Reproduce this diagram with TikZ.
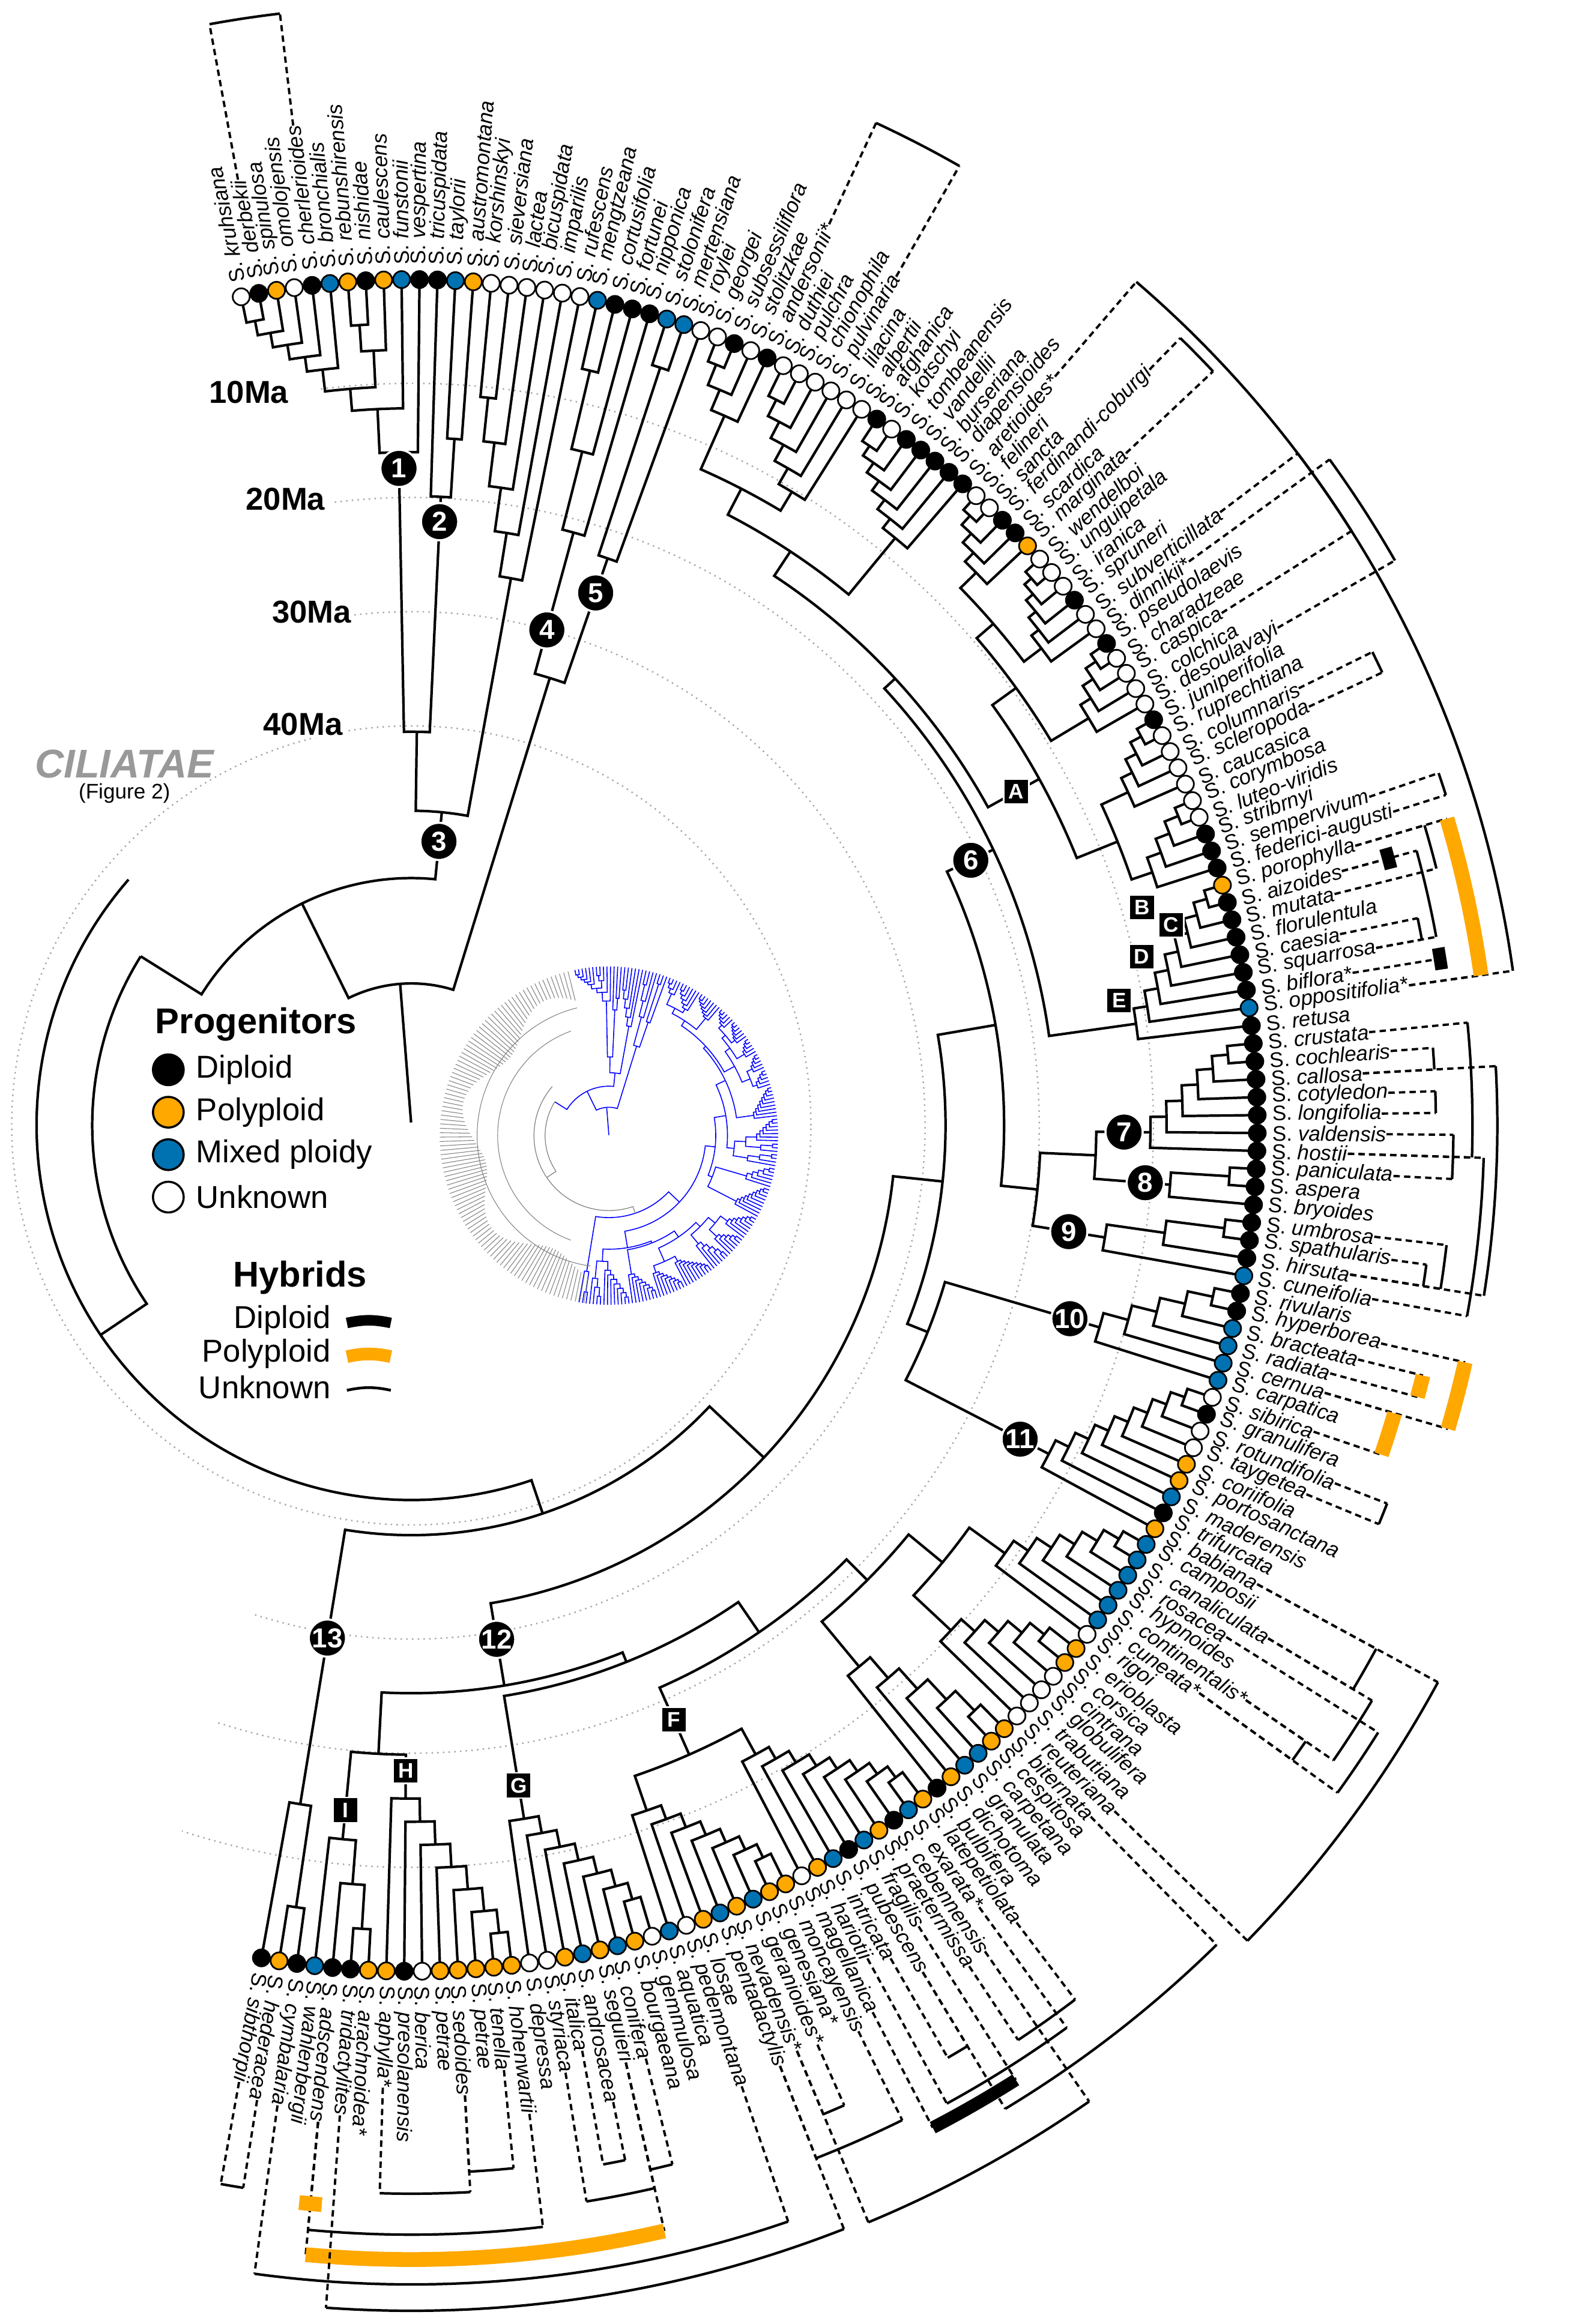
\documentclass[tikz,border=0pt]{standalone}
\usepackage{fontspec}
\setmainfont{Liberation Sans}
\definecolor{ck}{RGB}{0,0,0}
\definecolor{co}{RGB}{255,168,0}
\definecolor{cb}{RGB}{0,114,178}
\definecolor{cw}{RGB}{255,255,255}
\newcommand\setn[3]{\expandafter\xdef\csname ang:#1\endcsname{#2}\expandafter\xdef\csname rad:#1\endcsname{#3}}
\newcommand\ga[1]{\csname ang:#1\endcsname}
\newcommand\gr[1]{\csname rad:#1\endcsname}
\newcommand\nd[4]{\pgfmathsetmacro\aA{\ga{#3}}\pgfmathsetmacro\rA{\gr{#3}}\pgfmathsetmacro\aB{\ga{#4}}\pgfmathsetmacro\rB{\gr{#4}}\pgfmathsetmacro\aM{(\aA+\aB)/2}\draw[br] (\aA:\rA) -- (\aA:#2) arc[start angle=\aA,end angle=\aB,radius=#2] -- (\aB:\rB);\setn{#1}{\aM}{#2}}
\newcommand\cmb[5]{\ifnum\numexpr#2+1\relax=#3\relax \nd{#1}{#5}{t#2}{t#3}\else\nd{#1}{#4}{t#2}{t\the\numexpr#2+1\relax}\pgfmathtruncatemacro\cst{#2+2}\foreach \k in {\cst,...,#3}{\pgfmathsetmacro\rr{#4-(#4-#5)*(\k-#2-1)/(#3-#2-1)}\nd{#1}{\rr}{#1}{t\k}}\fi}
\newcommand\hyb[4]{\pgfmathsetmacro\hA{\ga{t#1}}\pgfmathsetmacro\hB{\ga{t#2}}\draw[hd] (L#1.east) -- (\hA:#3);\draw[hd] (L#2.east) -- (\hB:#3);\draw[#4] (\hA:#3) arc[start angle=\hA,end angle=\hB,radius=#3];}
\newcommand\hbr[3]{\pgfmathsetmacro\hA{\ga{t#1}+0.6}\pgfmathsetmacro\hB{\ga{t#1}-0.6}\pgfmathsetmacro\hC{\ga{t#1}}\draw[hd] (L#1.east) -- (\hC:#2);\draw[#3] (\hA:#2) arc[start angle=\hA,end angle=\hB,radius=#2];}
\newcommand\mk[3]{\node[mk] at (#1:#2) {#3};}
\newcommand\lt[3]{\node[lt] at (#1:#2) {#3};}
\newcommand\mytree{%
\cmb{a1}{1}{6}{560}{520}\cmb{a2}{7}{9}{548}{530}\nd{a3}{505}{a1}{a2}\nd{a4}{490}{a3}{t10}\nd{n1}{460}{a4}{t11}%
\nd{c13}{470}{t13}{t14}\nd{n2}{430}{t12}{c13}\nd{ntop}{269}{n1}{n2}\cmb{a6}{15}{20}{500}{380}\nd{n3}{215}{ntop}{a6}%
\cmb{a7}{21}{24}{530}{420}\cmb{a8}{25}{27}{545}{410}\nd{n45}{320}{a7}{a8}%
\setn{cil}{148}{218}\nd{x169}{169}{cil}{n3}\nd{root}{97}{x169}{n45}\draw[br] (\ga{root}:2) -- (\ga{root}:97);%
\cmb{c28a}{28}{31}{560}{530}\cmb{c28b}{32}{37}{555}{505}\cmb{c28c}{38}{44}{560}{520}\nd{g28ab}{490}{c28a}{c28b}\nd{g28}{470}{g28ab}{c28c}%
\cmb{c45a}{45}{49}{565}{540}\cmb{c45b}{50}{55}{565}{540}\cmb{c45c}{56}{60}{565}{540}\nd{g45ab}{525}{c45a}{c45b}\nd{g45}{510}{g45ab}{c45c}%
\cmb{c61a}{61}{65}{565}{540}\cmb{c61b}{66}{70}{565}{535}\nd{g61}{520}{c61a}{c61b}\nd{gA}{490}{g45}{g61}\nd{gA2}{450}{g28}{gA}%
\cmb{bcde}{71}{79}{565}{500}\nd{n6}{440}{gA2}{bcde}%
\cmb{g7}{80}{86}{560}{505}\cmb{g8}{87}{89}{560}{520}\nd{n78}{468}{g7}{g8}\cmb{g9}{90}{93}{560}{480}\nd{n789}{430}{n78}{g9}\nd{x405}{405}{n6}{n789}%
\cmb{g10}{94}{99}{560}{490}\cmb{g11}{100}{108}{560}{490}\nd{n1011}{380}{g10}{g11}\nd{x365}{365}{x405}{n1011}%
\cmb{c109a}{109}{115}{560}{500}\cmb{c109b}{116}{121}{555}{505}\cmb{c109c}{122}{127}{555}{480}\nd{g109ab}{470}{c109a}{c109b}\nd{g109}{440}{g109ab}{c109c}%
\cmb{c128a}{128}{136}{555}{490}\cmb{c128b}{137}{144}{555}{495}\nd{g128}{470}{c128a}{c128b}\nd{gF}{420}{g109}{g128}%
\cmb{gG}{145}{152}{550}{480}\nd{gGF}{395}{gF}{gG}\cmb{gH}{153}{160}{555}{460}\cmb{gI}{161}{164}{550}{490}\nd{gIH}{430}{gI}{gH}%
\nd{n12}{388}{gIH}{gGF}\nd{x331}{331}{n12}{x365}\cmb{g13}{165}{167}{540}{470}\nd{n280}{280}{g13}{x331}%
\pgfmathsetmacro\aE{\ga{n280}+360}%
\draw[ciltree] (148:218) arc[start angle=148,end angle=214,radius=218] -- (214:256);%
\draw[ciltree] (139:256) arc[start angle=139,end angle=\aE,radius=256] -- (\aE:280);%
}
\newcommand\lab{\fontsize{10}{10}\selectfont}
\begin{document}
\begin{tikzpicture}[x=0.02438cm,y=0.02438cm,
 br/.style={line width=1.2pt},ciltree/.style={line width=1.2pt},
 hd/.style={line width=1.1pt,dash pattern=on 3pt off 2pt},
 hu/.style={line width=1.2pt},
 ho/.style={line width=7pt,co},
 hk/.style={line width=6pt,black},
 dotc/.style={gray!70,dotted,line width=0.7pt},
 mk/.style={circle,fill=black,draw=white,line width=1pt,text=white,font=\fontsize{13}{13}\selectfont\bfseries,minimum size=0.62cm,inner sep=0pt},
 lt/.style={fill=black,draw=white,line width=0.8pt,text=white,font=\fontsize{10}{10}\selectfont\bfseries,minimum size=0.42cm,inner sep=0pt}]
\useasboundingbox (0,0) rectangle (1080,1588);
\foreach \i in {1,...,167}{\pgfmathsetmacro\tA{101.6-1.2157*(\i-1)}\setn{t\i}{\tA}{578}}
\begin{scope}[shift={(281,819)}]
\foreach \r in {507,429,351}{\draw[dotc] (97:\r) arc[start angle=97,end angle=-108,radius=\r];}
\draw[dotc] (0,0) circle[radius=273];
\mytree
\foreach \c/\n [count=\i] in {w/kruhsiana, k/derbekii, o/spinulosa, w/omolojensis, k/cherlerioides, b/bronchialis, o/rebunshirensis, k/nishidae, o/caulescens, b/funstonii, k/vespertina, k/tricuspidata, b/taylorii, o/austromontana, w/korshinskyi, w/sieversiana, w/lactea, w/bicuspidata, w/imparilis, w/rufescens, b/mengtzeana, k/cortusifolia, k/fortunei, k/nipponica, b/stolonifera, b/mertensiana, w/roylei, w/georgei, k/subsessiliflora, w/stolitzkae, k/andersonii*, w/duthiei, w/pulchra, w/chionophila, w/pulvinaria, w/lilacina, w/albertii, k/afghanica, w/kotschyi, k/tombeanensis, k/vandellii, k/burseriana, k/diapensioides, k/aretioides*, w/felineri, w/sancta, k/ferdinandi-coburgi, k/scardica, o/marginata, w/wendelboi, w/unguipetala, w/iranica, k/spruneri, w/subverticillata, w/dinnikii*, k/pseudolaevis, w/charadzeae, w/caspica, w/colchica, w/desoulavayi, k/juniperifolia, w/ruprechtiana, w/columnaris, w/scleropoda, w/caucasica, w/corymbosa, w/luteo-viridis, k/stribrnyi, k/sempervivum, k/federici-augusti, o/porophylla, k/aizoides, k/mutata, k/florulentula, k/caesia, k/squarrosa, k/biflora*, b/oppositifolia*, k/retusa, k/crustata, k/cochlearis, k/callosa, k/cotyledon, k/longifolia, k/valdensis, k/hostii, k/paniculata, k/aspera, k/bryoides, k/umbrosa, k/spathularis, k/hirsuta, b/cuneifolia, k/rivularis, k/hyperborea, b/bracteata, b/radiata, b/cernua, b/carpatica, w/sibirica, k/granulifera, w/rotundifolia, w/taygetea, o/coriifolia, o/portosanctana, b/maderensis, k/trifurcata, o/babiana, b/camposii, b/canaliculata, b/rosacea, b/hypnoides, b/continentalis*, b/cuneata*, w/rigoi, o/erioblasta, o/corsica, w/cintrana, w/globulifera, w/trabutiana, w/reuteriana, o/biternata, o/cespitosa, b/carpetana, b/granulata, o/dichotoma, k/bulbifera, o/latepetiolata, b/exarata*, k/cebennensis, o/praetermissa, b/fragilis, k/pubescens, b/intricata, o/hariotii, w/magellanica, o/moncayensis, o/genesiana*, b/geranioides*, o/nevadensis*, b/pentadactylis, o/losae, w/pedemontana, b/aquatica, w/gemmulosa, o/bourgaeana, b/conifera, o/seguieri, b/androsacea, o/italica, w/styriaca, w/depressa, o/hohenwartii, o/tenella, o/petrae, o/sedoides, o/petrae, w/berica, k/presolanensis, o/aphylla*, o/arachnoidea*, k/tridactylites, k/adscendens, b/wahlenbergii, k/cymbalaria, o/hederacea, k/sibthorpii}{%
 \pgfmathsetmacro\tA{101.6-1.2157*(\i-1)}
 \draw[line width=0.8pt,fill=c\c] (\tA:578) circle[radius=5.8];
 \node[anchor=west,rotate=\tA,inner sep=0pt,font=\lab] (L\i) at (\tA:588) {S.~\textit{\n}};
}
\hyb{2}{5}{765}{hu}\hyb{31}{35}{755}{hu}\hyb{44}{78}{760}{hu}\hyb{47}{49}{752}{hu}
\hyb{54}{58}{760}{hu}\hyb{55}{60}{775}{hu}\hyb{63}{64}{732}{hu}\hyb{69}{70}{742}{hu}
\hyb{71}{73}{722}{hu}\hyb{72}{76}{712}{hu}\hyb{75}{76}{702}{hu}\hyb{71}{78}{738}{ho}
\hbr{72}{692}{hk}\hbr{77}{712}{hk}
\hyb{80}{86}{725}{hu}\hyb{81}{82}{700}{hu}\hyb{83}{84}{700}{hu}\hyb{85}{87}{712}{hu}\hyb{82}{92}{742}{hu}\hyb{90}{92}{712}{hu}\hyb{91}{92}{700}{hu}\hyb{86}{93}{733}{hu}
\hyb{95}{98}{738}{ho}\hyb{96}{97}{712}{ho}\hyb{98}{100}{700}{ho}
\hyb{102}{103}{715}{hu}
\hyb{108}{110}{750}{hu}\hyb{110}{113}{765}{hu}\hyb{111}{114}{780}{hu}\hyb{113}{114}{742}{hu}\hyb{108}{121}{798}{hu}
\hyb{122}{133}{785}{hu}\hyb{128}{131}{750}{hu}\hyb{133}{134}{735}{hu}\hyb{129}{135}{762}{hu}\hyb{132}{136}{772}{hk}
\hyb{137}{141}{758}{hu}\hyb{139}{140}{732}{hu}\hyb{143}{165}{792}{hu}\hyb{140}{130}{812}{hu}
\hyb{166}{167}{735}{hu}\hyb{153}{163}{758}{hu}\hyb{148}{163}{775}{ho}\hyb{156}{160}{730}{hu}\hyb{154}{156}{716}{hu}
\hyb{149}{150}{722}{hu}\hyb{148}{151}{745}{hu}\hyb{147}{148}{732}{hu}\hyb{162}{141}{810}{hu}\hbr{163}{740}{ho}
\mk{\ga{n1}}{449}{1}\mk{\ga{n2}}{413}{2}\mk{\ga{n3}}{195}{3}\mk{\ga{a7}}{351}{4}\mk{\ga{a8}}{385}{5}
\mk{\ga{n6}}{423}{6}\mk{\ga{g7}}{487}{7}\mk{\ga{g8}}{503}{8}\mk{\ga{g9}}{455}{9}\mk{\ga{g10}}{469}{10}
\mk{\ga{g11}}{468}{11}\mk{\ga{n12}}{356}{12}\mk{\ga{g13}}{355}{13}
\lt{\ga{gA}}{472}{A}\lt{16.6}{521}{B}\lt{14.8}{537}{C}\lt{13}{512}{D}\lt{10}{491}{E}
\lt{\ga{g128}}{444}{F}\lt{\ga{gG}}{457}{G}\lt{\ga{gH}}{441}{H}\lt{\ga{gI}}{470}{I}
\end{scope}
\begin{scope}[shift={(416,812)},scale=0.2]
\tikzset{br/.style={blue,line width=0.45pt},ciltree/.style={gray,line width=0.35pt}}
\mytree
\foreach \t in {104,105.5,...,262}{\draw[gray,line width=0.3pt] (\t:{470+40*sin(7*\t)}) -- (\t:578);}
\draw[gray,line width=0.3pt] (104:450) arc[start angle=104,end angle=262,radius=450];
\draw[gray,line width=0.3pt] (110:380) arc[start angle=110,end angle=250,radius=380];
\end{scope}
\foreach \x/\y/\t in {170/1320/10Ma,195/1247/20Ma,213/1170/30Ma,207/1093/40Ma}{\node[fill=white,inner sep=1pt,font=\fontsize{15}{15}\selectfont\bfseries] at (\x,\y) {\t};}
\node[text=gray!80,font=\fontsize{19}{19}\selectfont\bfseries\itshape] at (85,1066) {CILIATAE};
\node[font=\fontsize{10}{10}\selectfont] at (85,1046) {(Figure 2)};
\node[font=\fontsize{17}{17}\selectfont\bfseries] at (175,888) {Progenitors};
\foreach \y/\c/\t in {857/ck/Diploid,828/co/Polyploid,799/cb/Mixed ploidy,770/cw/Unknown}{\draw[line width=1pt,fill=\c] (115,\y) circle[radius=10.5];\node[anchor=west,font=\fontsize{15}{15}\selectfont] at (129,\y) {\t};}
\node[font=\fontsize{17}{17}\selectfont\bfseries] at (205,715) {Hybrids};
\node[anchor=east,font=\fontsize{15}{15}\selectfont] at (231,686) {Diploid};
\node[anchor=east,font=\fontsize{15}{15}\selectfont] at (231,663) {Polyploid};
\node[anchor=east,font=\fontsize{15}{15}\selectfont] at (231,640) {Unknown};
\draw[line width=5pt] (237,684) to[bend left=12] (267,684);
\draw[line width=6pt,co] (237,661) to[bend left=12] (267,661);
\draw[line width=1.3pt] (237,638) to[bend left=12] (267,638);
\end{tikzpicture}
\end{document}
